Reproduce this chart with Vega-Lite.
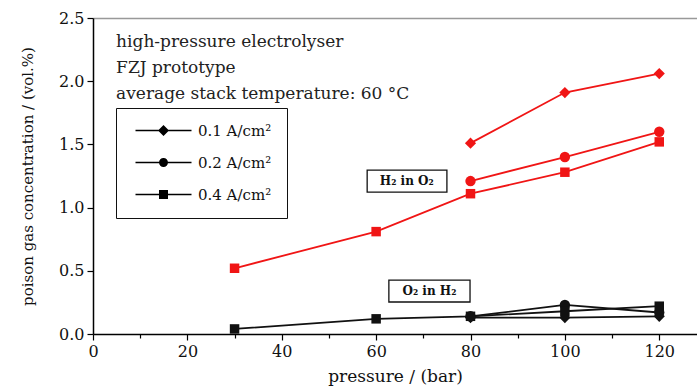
{
  "$schema": "https://vega.github.io/schema/vega-lite/v6.json",
  "width": 604,
  "height": 316,
  "autosize": {"type": "none"},
  "padding": {"left": 93, "top": 18, "right": 0, "bottom": 57},
  "background": "white",
  "config": {
    "view": {"stroke": null},
    "font": "DejaVu Serif",
    "axis": {"labelFont": "DejaVu Serif", "titleFont": "DejaVu Serif", "labelColor": "#111", "titleColor": "#111", "titleFontWeight": "normal", "domainColor": "#000", "tickColor": "#000", "grid": false}
  },
  "datasets": {
    "pts": [
      {"gas": "H2 in O2", "k": "0.1 A/cm²", "p": 80, "c": 1.51},
      {"gas": "H2 in O2", "k": "0.1 A/cm²", "p": 100, "c": 1.91},
      {"gas": "H2 in O2", "k": "0.1 A/cm²", "p": 120, "c": 2.06},
      {"gas": "H2 in O2", "k": "0.2 A/cm²", "p": 80, "c": 1.21},
      {"gas": "H2 in O2", "k": "0.2 A/cm²", "p": 100, "c": 1.40},
      {"gas": "H2 in O2", "k": "0.2 A/cm²", "p": 120, "c": 1.60},
      {"gas": "H2 in O2", "k": "0.4 A/cm²", "p": 30, "c": 0.52},
      {"gas": "H2 in O2", "k": "0.4 A/cm²", "p": 60, "c": 0.81},
      {"gas": "H2 in O2", "k": "0.4 A/cm²", "p": 80, "c": 1.11},
      {"gas": "H2 in O2", "k": "0.4 A/cm²", "p": 100, "c": 1.28},
      {"gas": "H2 in O2", "k": "0.4 A/cm²", "p": 120, "c": 1.52},
      {"gas": "O2 in H2", "k": "0.1 A/cm²", "p": 80, "c": 0.13},
      {"gas": "O2 in H2", "k": "0.1 A/cm²", "p": 100, "c": 0.13},
      {"gas": "O2 in H2", "k": "0.1 A/cm²", "p": 120, "c": 0.14},
      {"gas": "O2 in H2", "k": "0.2 A/cm²", "p": 80, "c": 0.14},
      {"gas": "O2 in H2", "k": "0.2 A/cm²", "p": 100, "c": 0.23},
      {"gas": "O2 in H2", "k": "0.2 A/cm²", "p": 120, "c": 0.17},
      {"gas": "O2 in H2", "k": "0.4 A/cm²", "p": 30, "c": 0.04},
      {"gas": "O2 in H2", "k": "0.4 A/cm²", "p": 60, "c": 0.12},
      {"gas": "O2 in H2", "k": "0.4 A/cm²", "p": 80, "c": 0.14},
      {"gas": "O2 in H2", "k": "0.4 A/cm²", "p": 100, "c": 0.18},
      {"gas": "O2 in H2", "k": "0.4 A/cm²", "p": 120, "c": 0.22}
    ],
    "boxes": [
      {"p": 58.1, "p2": 75.0, "c": 1.297, "c2": 1.123},
      {"p": 62.7, "p2": 79.9, "c": 0.427, "c2": 0.253}
    ],
    "boxlabels": [
      {"p": 66.5, "c": 1.21, "t": "H₂ in O₂"},
      {"p": 71.3, "c": 0.34, "t": "O₂ in H₂"}
    ],
    "notes": [
      {"p": 4.9, "c": 2.31, "t": "high-pressure electrolyser"},
      {"p": 4.9, "c": 2.104, "t": "FZJ prototype"},
      {"p": 4.9, "c": 1.899, "t": "average stack temperature: 60 °C"}
    ]
  },
  "resolve": {"scale": {"shape": "independent", "size": "independent"}, "legend": {"shape": "independent"}, "axis": {"x": "independent"}},
  "layer": [
    {
      "data": {"name": "boxes"},
      "mark": {"type": "rect", "fill": "white", "stroke": "#111", "strokeWidth": 1.3},
      "encoding": {
        "x": {"field": "p", "type": "quantitative", "scale": {"domain": [0, 128], "nice": false, "zero": false},
              "axis": {"orient": "top", "labels": false, "ticks": false, "title": null, "domainColor": "#999", "domainWidth": 1.5}},
        "x2": {"field": "p2"},
        "y": {"field": "c", "type": "quantitative"},
        "y2": {"field": "c2"}
      }
    },
    {
      "data": {"name": "boxlabels"},
      "mark": {"type": "text", "font": "DejaVu Serif", "fontSize": 12, "fontWeight": "bold", "color": "#111", "align": "center", "baseline": "middle"},
      "encoding": {
        "x": {"field": "p", "type": "quantitative", "axis": null},
        "y": {"field": "c", "type": "quantitative"},
        "text": {"field": "t"}
      }
    },
    {
      "data": {"name": "notes"},
      "mark": {"type": "text", "font": "DejaVu Serif", "fontSize": 17, "color": "#222", "align": "left", "baseline": "middle"},
      "encoding": {
        "x": {"field": "p", "type": "quantitative", "axis": null},
        "y": {"field": "c", "type": "quantitative"},
        "text": {"field": "t"}
      }
    },
    {
      "data": {"name": "pts"},
      "mark": {"type": "line", "strokeWidth": 1.8},
      "encoding": {
        "x": {"field": "p", "type": "quantitative",
              "axis": {"orient": "bottom", "title": "pressure / (bar)", "values": [0, 10, 20, 30, 40, 50, 60, 70, 80, 90, 100, 110, 120],
                       "labelExpr": "datum.value % 20 === 0 ? datum.label : ''",
                       "tickSize": {"condition": {"test": "datum.value % 20 === 0", "value": 6}, "value": 4},
                       "labelFontSize": 16, "titleFontSize": 17, "labelPadding": 3, "titlePadding": 9, "domainWidth": 1.5, "tickWidth": 1.2, "labelFlush": false}},
        "y": {"field": "c", "type": "quantitative", "scale": {"domain": [0, 2.5], "nice": false, "zero": false},
              "axis": {"title": "poison gas concentration / (vol.%)", "values": [0, 0.25, 0.5, 0.75, 1, 1.25, 1.5, 1.75, 2, 2.25, 2.5],
                       "labelExpr": "round(datum.value * 100) % 50 === 0 ? format(datum.value, '.1f') : ''",
                       "tickSize": {"condition": {"test": "round(datum.value * 100) % 50 === 0", "value": 6}, "value": 4},
                       "labelFontSize": 16, "titleFontSize": 15, "labelPadding": 3, "titlePadding": 23, "domainWidth": 1.5, "tickWidth": 1.2, "labelFlush": false}},
        "color": {"field": "gas", "type": "nominal", "scale": {"domain": ["H2 in O2", "O2 in H2"], "range": ["#f01515", "#111111"]}, "legend": null},
        "detail": {"field": "k"}
      }
    },
    {
      "data": {"name": "pts"},
      "mark": {"type": "point", "filled": true, "opacity": 1},
      "encoding": {
        "x": {"field": "p", "type": "quantitative", "axis": null},
        "y": {"field": "c", "type": "quantitative"},
        "color": {"field": "gas", "type": "nominal", "legend": null},
        "shape": {"field": "k", "type": "nominal", "scale": {"domain": ["0.1 A/cm²", "0.2 A/cm²", "0.4 A/cm²"], "range": ["diamond", "circle", "square"]}, "legend": null},
        "size": {"field": "k", "type": "nominal", "scale": {"domain": ["0.1 A/cm²", "0.2 A/cm²", "0.4 A/cm²"], "range": [125, 90, 100]}, "legend": null}
      }
    },
    {
      "data": {"name": "pts"},
      "mark": {"type": "point", "filled": true, "opacity": 0, "color": "black"},
      "encoding": {
        "x": {"field": "p", "type": "quantitative", "axis": null},
        "y": {"field": "c", "type": "quantitative"},
        "shape": {"field": "k", "type": "nominal",
                  "scale": {"domain": ["0.1 A/cm²", "0.2 A/cm²", "0.4 A/cm²"],
                            "range": ["M-5.6,-0.16L5.6,-0.16L5.6,0.16L-5.6,0.16ZM0,-1.1L1.1,0L0,1.1L-1.1,0Z",
                                      "M-5.6,-0.16L5.6,-0.16L5.6,0.16L-5.6,0.16ZM0.9,0A0.9,0.9,0,1,1,-0.9,0A0.9,0.9,0,1,1,0.9,0Z",
                                      "M-5.6,-0.16L5.6,-0.16L5.6,0.16L-5.6,0.16ZM-0.9,-0.9L0.9,-0.9L0.9,0.9L-0.9,0.9Z"]},
                  "legend": {"orient": "none", "legendX": 23, "legendY": 90, "title": null,
                             "symbolSize": 100, "symbolFillColor": "black", "symbolStrokeColor": "black", "symbolStrokeWidth": 0, "symbolOpacity": 1,
                             "labelFont": "DejaVu Serif", "labelFontSize": 15, "labelColor": "#111", "labelOffset": 27, "symbolOffset": 25,
                             "strokeColor": "#111", "fillColor": "white", "padding": 15, "rowPadding": 16}}
      }
    }
  ]
}
